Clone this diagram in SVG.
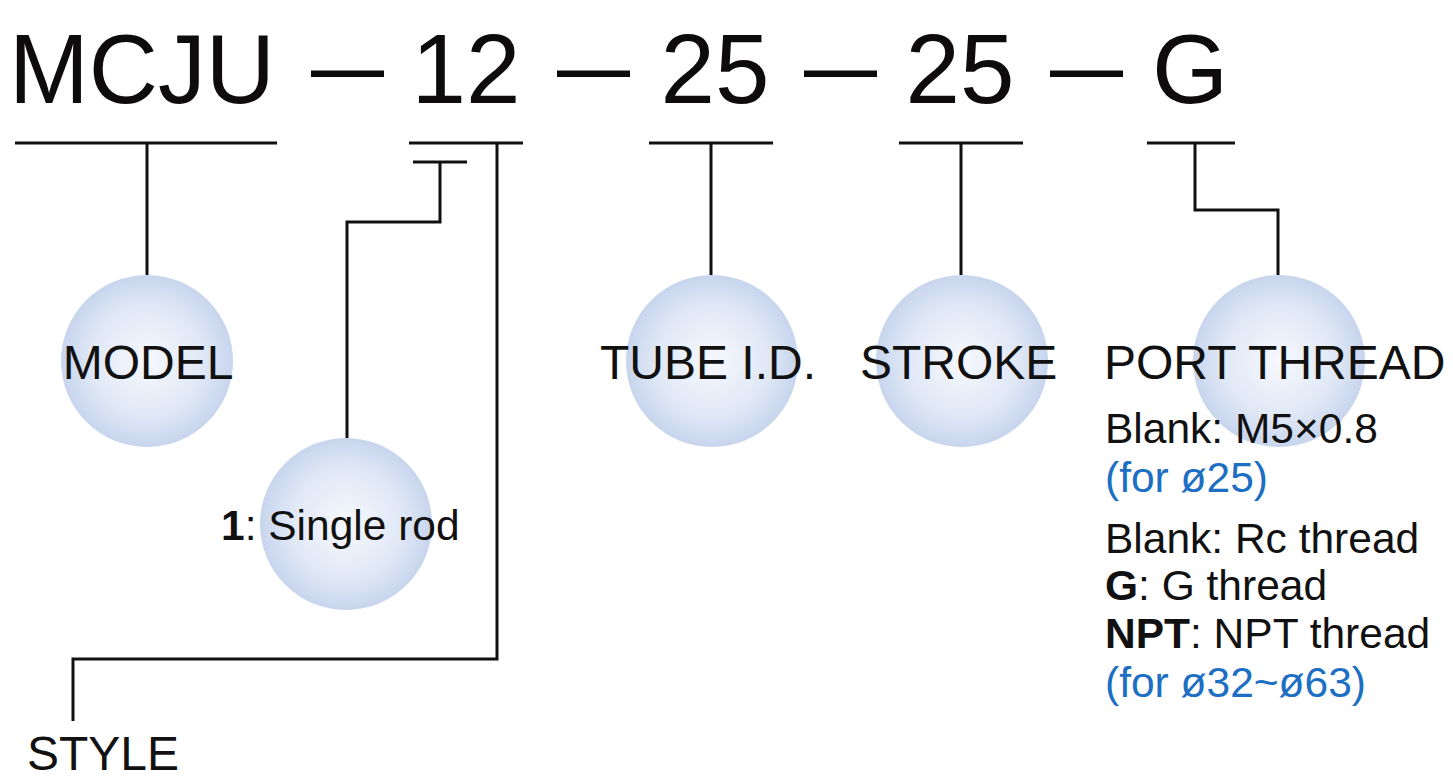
<svg xmlns="http://www.w3.org/2000/svg" width="1453" height="778" viewBox="0 0 1453 778">
  <style>
    .title { font-family: "Liberation Sans", Arial, sans-serif; font-size: 98px; fill: #0d0b0b; }
    .lbl { font-family: "Liberation Sans", Arial, sans-serif; font-size: 48px; fill: #111; }
    .sm { font-family: "Liberation Sans", Arial, sans-serif; font-size: 42.5px; fill: #111; }
    .blue { fill: #1c6fc3; }
    .b { font-weight: bold; }
    .conn { fill: none; stroke: #111; stroke-width: 3; }
  </style>
  <defs>
    <radialGradient id="bub" cx="50%" cy="50%" r="50%">
      <stop offset="0%" stop-color="#f6f8fd"/>
      <stop offset="65%" stop-color="#e0e8f6"/>
      <stop offset="100%" stop-color="#c7d5ed"/>
    </radialGradient>
  </defs>
  <rect width="1453" height="778" fill="#fff"/>

  <g id="title">
    <text class="title" y="103" x="9" textLength="266" lengthAdjust="spacingAndGlyphs">MCJU</text>
    <text class="title" y="103" x="466" text-anchor="middle">12</text>
    <text class="title" y="103" x="715" text-anchor="middle">25</text>
    <text class="title" y="103" x="960" text-anchor="middle">25</text>
    <text class="title" y="103" x="1190" text-anchor="middle">G</text>
    <text class="title" y="99" x="311" textLength="73" lengthAdjust="spacingAndGlyphs">—</text>
    <text class="title" y="99" x="557" textLength="73" lengthAdjust="spacingAndGlyphs">—</text>
    <text class="title" y="99" x="804" textLength="73" lengthAdjust="spacingAndGlyphs">—</text>
    <text class="title" y="99" x="1050" textLength="73" lengthAdjust="spacingAndGlyphs">—</text>
  </g>

  <g id="connectors">
    <path class="conn" d="M15 143 H277 M147 143 V275"/>
    <path class="conn" d="M409 143 H523 M413 162 H467 M440 162 V222 H347 V438"/>
    <path class="conn" d="M497 143 V659 H73 V721"/>
    <path class="conn" d="M649 143 H773 M711 143 V275"/>
    <path class="conn" d="M899 143 H1023 M961 143 V275"/>
    <path class="conn" d="M1147 143 H1235 M1195 143 V210 H1278 V275"/>
  </g>

  <g id="model">
    <circle cx="147" cy="361" r="86" fill="url(#bub)"/>
    <text class="lbl" x="148" y="379" text-anchor="middle">MODEL</text>
  </g>

  <g id="single-rod">
    <circle cx="346" cy="524" r="86" fill="url(#bub)"/>
    <text class="sm" x="221" y="540"><tspan class="b">1</tspan>: Single rod</text>
  </g>

  <g id="style">
    <text class="lbl" x="27" y="770">STYLE</text>
  </g>

  <g id="tube">
    <circle cx="712" cy="361" r="86" fill="url(#bub)"/>
    <text class="lbl" x="600" y="379">TUBE I.D.</text>
  </g>

  <g id="stroke">
    <circle cx="962" cy="361" r="86" fill="url(#bub)"/>
    <text class="lbl" x="860" y="379">STROKE</text>
  </g>

  <g id="port-thread">
    <circle cx="1279" cy="361" r="86" fill="url(#bub)"/>
    <text class="lbl" x="1104" y="379">PORT THREAD</text>
    <text class="sm" x="1105" y="443">Blank: M5×0.8</text>
    <text class="sm blue" x="1105" y="492">(for ø25)</text>
    <text class="sm" x="1105" y="553">Blank: Rc thread</text>
    <text class="sm" x="1105" y="600"><tspan class="b">G</tspan>: G thread</text>
    <text class="sm" x="1105" y="648"><tspan class="b">NPT</tspan>: NPT thread</text>
    <text class="sm blue" x="1105" y="697">(for ø32~ø63)</text>
  </g>
</svg>
